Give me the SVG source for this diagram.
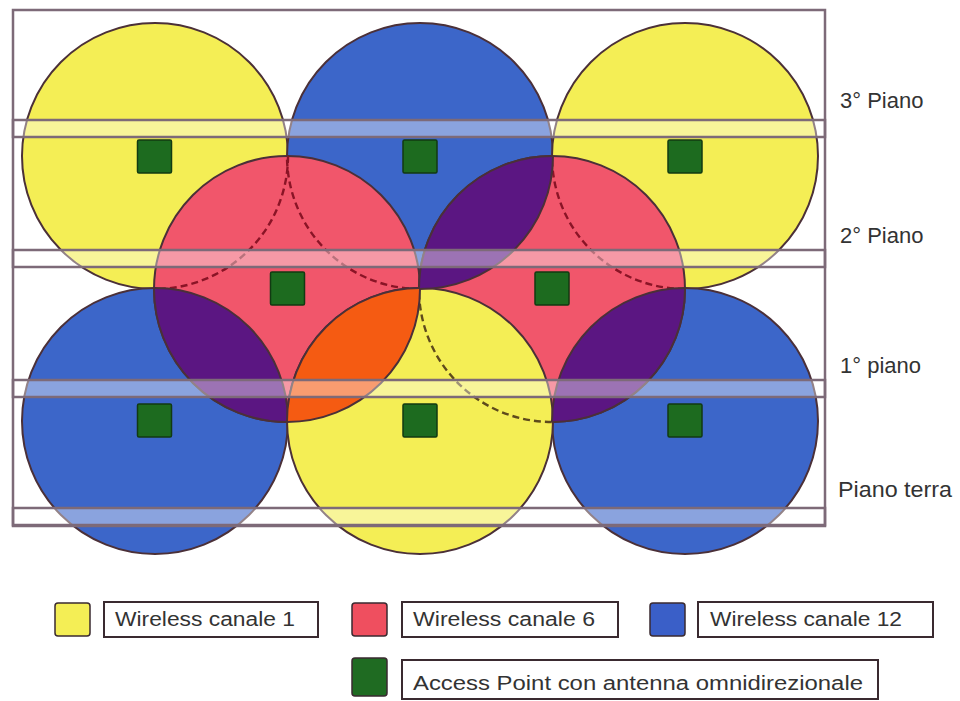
<svg xmlns="http://www.w3.org/2000/svg" width="960" height="701" viewBox="0 0 960 701">
<defs>
<style>
.y{fill:#f4ee55}.b{fill:#3c66c9}.r{fill:#f1566b}.p{fill:#5b1682}.o{fill:#f55b12}
.cs{stroke:#4b3038;stroke-width:2}
.ns{fill:none;stroke:#4b3038;stroke-width:2}
.dr{fill:none;stroke:#8a1426;stroke-width:2.4;stroke-dasharray:7 4}
.dy{fill:none;stroke:#5e4a1c;stroke-width:2.4;stroke-dasharray:7 4}
.ap{fill:#1d6b1f;stroke:#123a12;stroke-width:1.5}
.band{fill:#ffffff;fill-opacity:0.4;stroke:#7d6a78;stroke-width:2.5}
.frame{fill:none;stroke:#7d6a78;stroke-width:2.5}
.lbl{font-family:"Liberation Sans",Arial,sans-serif;font-size:22px;fill:#333333}
.lg{font-family:"Liberation Sans",Arial,sans-serif;font-size:20px;fill:#333333}
.box{fill:#ffffff;stroke:#3a2a30;stroke-width:2}
.sw{stroke:#3a2a30;stroke-width:1.5}
</style>
<clipPath id="cRL"><circle cx="287" cy="289" r="133"/></clipPath>
<clipPath id="cRR"><circle cx="552" cy="289" r="133"/></clipPath>
<clipPath id="cYB"><circle cx="420" cy="421" r="133"/></clipPath>
<clipPath id="cBT"><circle cx="420" cy="156" r="133"/></clipPath>
<clipPath id="cBL"><circle cx="155" cy="421" r="133"/></clipPath>
<clipPath id="cBR"><circle cx="685" cy="421" r="133"/></clipPath>
</defs>
<rect width="960" height="701" fill="#ffffff"/>

<g id="coverage">
<g id="cell-yellow-top-left"><circle class="y cs" cx="155" cy="156" r="133"/></g>
<g id="cell-blue-top"><circle class="b cs" cx="420" cy="156" r="133"/></g>
<g id="cell-yellow-top-right"><circle class="y cs" cx="685" cy="156" r="133"/></g>
<g id="cell-blue-bottom-left"><circle class="b cs" cx="155" cy="421" r="133"/></g>
<g id="cell-blue-bottom-right"><circle class="b cs" cx="685" cy="421" r="133"/></g>
<g id="cell-red-left"><circle class="r cs" cx="287" cy="289" r="133"/></g>
<g id="cell-red-right"><circle class="r cs" cx="552" cy="289" r="133"/></g>
<g id="hidden-edges-red">
<circle class="dr" cx="155" cy="156" r="133" clip-path="url(#cRL)"/>
<circle class="dr" cx="420" cy="156" r="133" clip-path="url(#cRL)"/>
<circle class="dr" cx="685" cy="156" r="133" clip-path="url(#cRR)"/>
</g>
<g id="cell-yellow-bottom"><circle class="y cs" cx="420" cy="421" r="133"/></g>
<g id="hidden-edges-yellow">
<circle class="dy" cx="552" cy="289" r="133" clip-path="url(#cYB)"/>
</g>
<g id="overlaps">
<circle class="p" cx="552" cy="289" r="133" clip-path="url(#cBT)"/>
<circle class="ns" cx="552" cy="289" r="133" clip-path="url(#cBT)"/>
<circle class="ns" cx="420" cy="156" r="133" clip-path="url(#cRR)"/>
<circle class="p" cx="287" cy="289" r="133" clip-path="url(#cBL)"/>
<circle class="ns" cx="287" cy="289" r="133" clip-path="url(#cBL)"/>
<circle class="ns" cx="155" cy="421" r="133" clip-path="url(#cRL)"/>
<circle class="p" cx="552" cy="289" r="133" clip-path="url(#cBR)"/>
<circle class="ns" cx="552" cy="289" r="133" clip-path="url(#cBR)"/>
<circle class="ns" cx="685" cy="421" r="133" clip-path="url(#cRR)"/>
<circle class="o" cx="287" cy="289" r="133" clip-path="url(#cYB)"/>
<circle class="ns" cx="287" cy="289" r="133" clip-path="url(#cYB)"/>
<circle class="ns" cx="420" cy="421" r="133" clip-path="url(#cRL)"/>
</g>
</g>

<g id="access-points">
<g id="ap-1"><rect class="ap" x="137.5" y="140" width="34" height="33" rx="1.5"/></g>
<g id="ap-2"><rect class="ap" x="403" y="140" width="34" height="33" rx="1.5"/></g>
<g id="ap-3"><rect class="ap" x="668" y="140" width="34" height="33" rx="1.5"/></g>
<g id="ap-4"><rect class="ap" x="270.5" y="272" width="34" height="33" rx="1.5"/></g>
<g id="ap-5"><rect class="ap" x="535" y="272" width="34" height="33" rx="1.5"/></g>
<g id="ap-6"><rect class="ap" x="137.5" y="404" width="34" height="33" rx="1.5"/></g>
<g id="ap-7"><rect class="ap" x="403" y="404" width="34" height="33" rx="1.5"/></g>
<g id="ap-8"><rect class="ap" x="668" y="404" width="34" height="33" rx="1.5"/></g>
</g>

<g id="floors">
<rect class="band" x="13" y="120" width="812" height="17"/>
<rect class="band" x="13" y="250" width="812" height="17"/>
<rect class="band" x="13" y="380" width="812" height="17"/>
<rect class="band" x="13" y="508" width="812" height="17"/>
<rect class="frame" x="13" y="10" width="812" height="516"/>
</g>

<g id="floor-labels">
<text class="lbl" x="840" y="108">3° Piano</text>
<text class="lbl" x="840" y="243">2° Piano</text>
<text class="lbl" x="840" y="373">1° piano</text>
<text class="lbl" x="838" y="497" textLength="114" lengthAdjust="spacingAndGlyphs">Piano terra</text>
</g>

<g id="legend">
<g id="legend-ch1">
<rect class="y sw" x="55" y="603" width="35" height="33" rx="3"/>
<rect class="box" x="104" y="602" width="214" height="35"/>
<text class="lg" x="115" y="626" textLength="180" lengthAdjust="spacingAndGlyphs">Wireless canale 1</text>
</g>
<g id="legend-ch6">
<rect class="sw" fill="#ef4f5f" x="352" y="603" width="35" height="33" rx="3"/>
<rect class="box" x="402" y="602" width="216" height="35"/>
<text class="lg" x="413" y="626" textLength="182" lengthAdjust="spacingAndGlyphs">Wireless canale 6</text>
</g>
<g id="legend-ch12">
<rect class="sw" fill="#3a5fc8" x="650" y="603" width="35" height="33" rx="3"/>
<rect class="box" x="698" y="602" width="235" height="35"/>
<text class="lg" x="710" y="626" textLength="192" lengthAdjust="spacingAndGlyphs">Wireless canale 12</text>
</g>
<g id="legend-ap">
<rect class="sw" fill="#1f6b22" x="352" y="658" width="35" height="38" rx="3"/>
<rect class="box" x="402" y="660" width="476" height="39"/>
<text class="lg" x="413" y="690" font-size="21" textLength="450" lengthAdjust="spacingAndGlyphs">Access Point con antenna omnidirezionale</text>
</g>
</g>
</svg>
